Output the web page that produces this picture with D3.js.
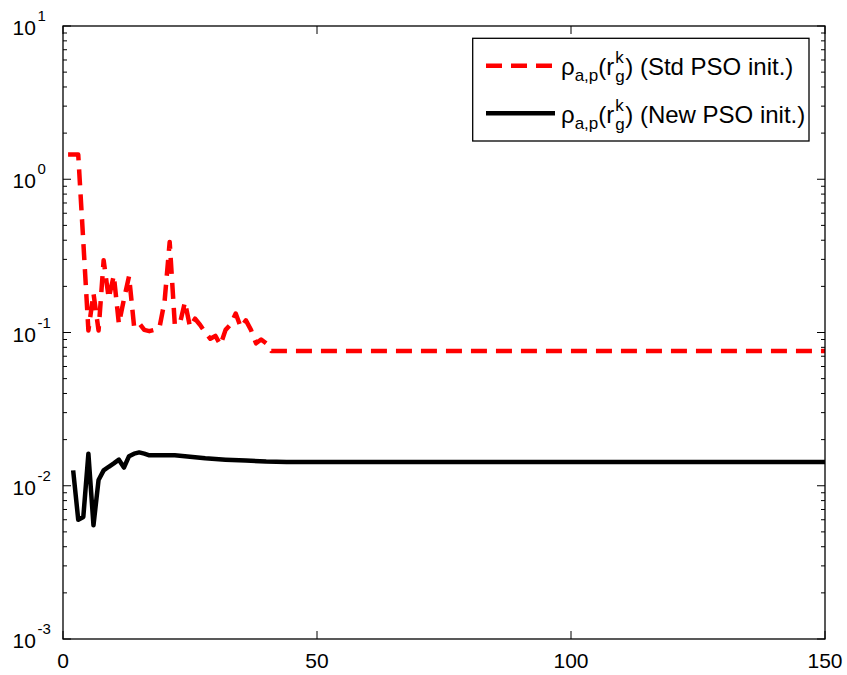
<!DOCTYPE html>
<html><head><meta charset="utf-8">
<script src="https://cdn.jsdelivr.net/npm/d3@7"></script>
<style>body{margin:0;background:#fff;} svg{display:block;} text{font-family:"Liberation Sans",Arial,sans-serif;}</style>
</head><body>
<svg id="c" width="847" height="675"></svg>
<script>
// ---- data ----
const stdX = [1,2,3,4,5,6,7,8,9,10,11,12,13,14,15,16,17,18,19,20,21,22,23,24,25,26,27,28,29,30,31,32,33,34,35,36,37,38,39,40,41,150];
const stdY = [1.45,1.45,1.45,0.39,0.103,0.18,0.103,0.296,0.167,0.236,0.114,0.165,0.233,0.109,0.115,0.104,0.102,0.104,0.108,0.16,0.39,0.114,0.114,0.158,0.109,0.123,0.112,0.1,0.091,0.095,0.083,0.104,0.113,0.133,0.108,0.12,0.104,0.085,0.09,0.085,0.0757,0.0757];
const newX = [2,3,4,5,6,7,8,9,10,11,12,13,14,15,16,17,18,20,22,24,28,32,36,40,44,150];
const newY = [0.0126,0.0060,0.00626,0.0162,0.00552,0.0109,0.0126,0.0133,0.0140,0.0148,0.01315,0.0156,0.0162,0.0165,0.0162,0.0158,0.0158,0.0158,0.0158,0.0156,0.0151,0.0148,0.0146,0.0144,0.0143,0.0143];
const xTicks = [0,50,100,150];
const yExps = [-3,-2,-1,0,1];
const legendNames = ["(Std PSO init.)","(New PSO init.)"];

// ---- layout ----
const L=63, R=825, T=26, B=639;
const svg = d3.select("#c");
const x = d3.scaleLinear().domain([0,150]).range([L,R]);
const y = d3.scaleLog().domain([1e-3,1e1]).range([B,T]);

// minor + major y ticks (inward, both sides)
const minor = [];
for (let e=-3;e<1;e++) for (let m=2;m<=9;m++) minor.push(m*Math.pow(10,e));
const g = svg.append("g").attr("stroke","#000").attr("stroke-width",1);
minor.forEach(v=>{
  g.append("line").attr("x1",L).attr("x2",L+4).attr("y1",y(v)).attr("y2",y(v));
  g.append("line").attr("x1",R).attr("x2",R-4).attr("y1",y(v)).attr("y2",y(v));
});
yExps.forEach(e=>{
  const v=Math.pow(10,e);
  g.append("line").attr("x1",L).attr("x2",L+8).attr("y1",y(v)).attr("y2",y(v));
  g.append("line").attr("x1",R).attr("x2",R-8).attr("y1",y(v)).attr("y2",y(v));
});
xTicks.forEach(v=>{
  g.append("line").attr("x1",x(v)).attr("x2",x(v)).attr("y1",B).attr("y2",B-8);
  g.append("line").attr("x1",x(v)).attr("x2",x(v)).attr("y1",T).attr("y2",T+8);
});

// lines
const line = d3.line().x(d=>x(d[0])).y(d=>y(d[1]));
svg.append("path").datum(newX.map((v,i)=>[v,newY[i]]))
  .attr("d",line).attr("fill","none").attr("stroke","#000").attr("stroke-width",4.5).attr("stroke-linejoin","round");
svg.append("path").datum(stdX.map((v,i)=>[v,stdY[i]]))
  .attr("d",line).attr("fill","none").attr("stroke","#ff0000").attr("stroke-width",4.5)
  .attr("stroke-dasharray","16,9").attr("stroke-linejoin","round");

// frame
svg.append("rect").attr("x",L).attr("y",T).attr("width",R-L).attr("height",B-T)
  .attr("fill","none").attr("stroke","#000").attr("stroke-width",1.3);

// tick labels
xTicks.forEach(v=>{
  svg.append("text").attr("x",x(v)).attr("y",668).attr("text-anchor","middle")
    .attr("font-size",21).text(v);
});
yExps.forEach(e=>{
  const yy = y(Math.pow(10,e));
  svg.append("text").attr("x",12.5).attr("y",yy+9).attr("font-size",21).text("10");
  svg.append("text").attr("x",37.5).attr("y",yy-5).attr("font-size",15).text(e);
});

// legend
svg.append("rect").attr("x",472.7).attr("y",38.3).attr("width",336.3).attr("height",102.7)
  .attr("fill","#fff").attr("stroke","#000").attr("stroke-width",1.3);
const entries = [{y:65.7, color:"#ff0000", dash:"16,9", base:75},{y:113.3, color:"#000", dash:null, base:123}];
function tw(txt,size){
  const t=svg.append("text").attr("font-size",size).text(txt);
  const w=t.node().getComputedTextLength(); t.remove(); return w;
}
entries.forEach((en,i)=>{
  const ln = svg.append("line").attr("x1",486).attr("x2",555).attr("y1",en.y).attr("y2",en.y)
    .attr("stroke",en.color).attr("stroke-width",4.5);
  if (en.dash) ln.attr("stroke-dasharray",en.dash);
  const big=24, small=17;
  let cx=561;
  const put=(txt,size,dy)=>{svg.append("text").attr("x",cx).attr("y",en.base+dy).attr("font-size",size).text(txt);};
  put("ρ",big,0); cx+=tw("ρ",big);
  put("a,p",small,6); cx+=tw("a,p",small);
  put("(r",big,0); cx+=tw("(r",big)+1;
  put("k",small,-12); put("g",small,7); cx+=Math.max(tw("k",small),tw("g",small))+0.5;
  put(") "+legendNames[i],big,0);
});
</script>
</body></html>
